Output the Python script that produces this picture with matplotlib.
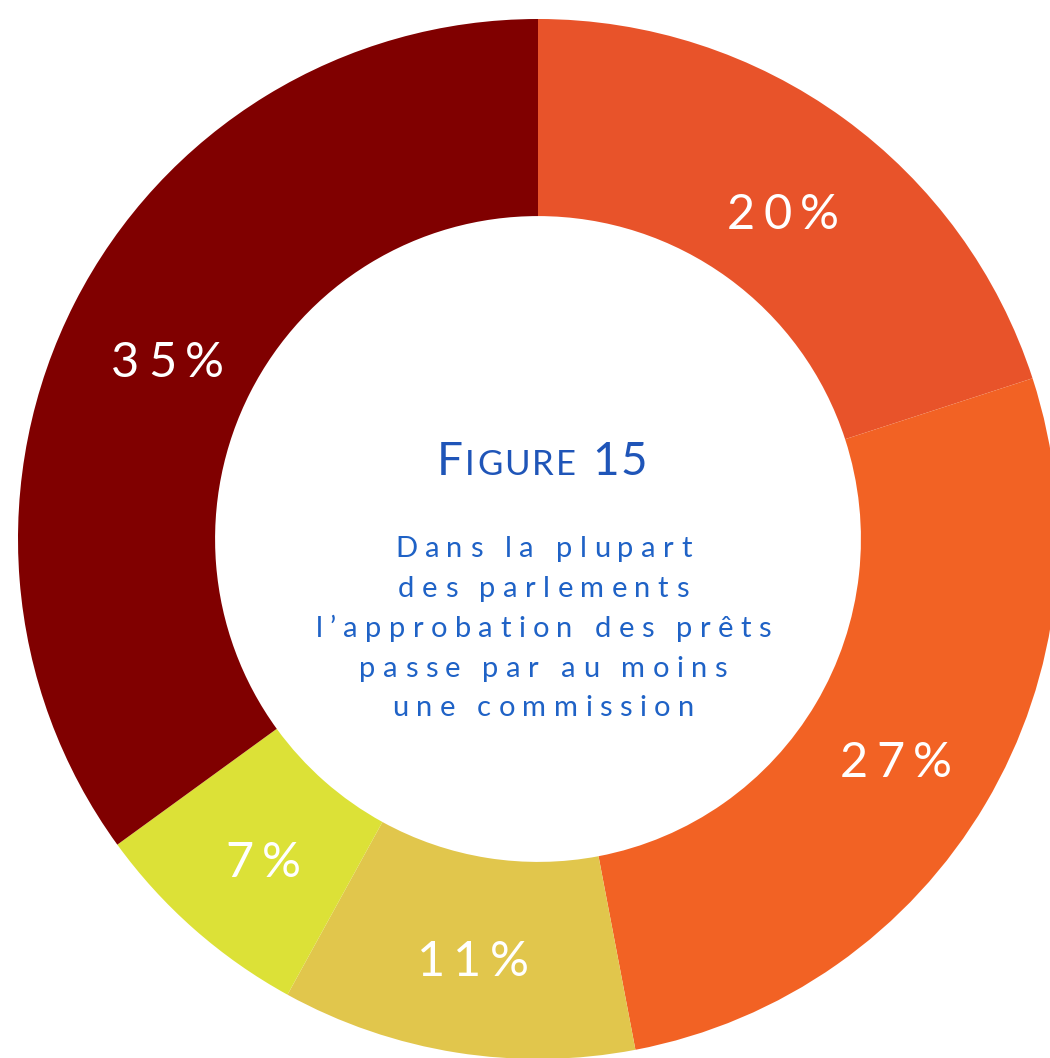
import matplotlib
matplotlib.use("Agg")
import matplotlib.pyplot as plt
from matplotlib import transforms
from matplotlib.font_manager import FontProperties, findfont
from matplotlib.ft2font import FT2Font

# data
shares = [20, 27, 11, 7, 35]
colors = ["#E8532A", "#F26224", "#E1C64C", "#DCE137", "#800000"]
title_runs = [("F", 33), ("IGURE", 25), (" 15", 33)]
body_lines = ["Dans la plupart", "des parlements", "l\u2019approbation des prêts",
              "passe par au moins", "une commission"]

FONT = "Lato"
_fonts = {}


def advance(ch, size, weight):
    key = weight
    if key not in _fonts:
        _fonts[key] = FT2Font(findfont(FontProperties(family=FONT, weight=weight)))
    f = _fonts[key]
    f.set_size(size, 72)
    g = f.load_char(ord(ch))
    return g.linearHoriAdvance / 65536.0


def tracked(ax, x, y, runs, track, color, weight="normal", dy=0):
    # draw text char by char so the letter spacing can be widened
    chars = [(c, s) for txt, s in runs for c in txt]
    widths = [advance(c, s, weight) for c, s in chars]
    total = sum(widths) + track * (len(chars) - 1)
    pos = -total / 2
    for (c, s), w in zip(chars, widths):
        tr = transforms.offset_copy(ax.transData, fig=ax.figure, x=pos, y=dy, units="points")
        ax.text(x, y, c, transform=tr, fontsize=s, family=FONT, fontweight=weight,
                color=color, ha="left", va="baseline")
        pos += w + track


fig = plt.figure(figsize=(10.5, 10.58), dpi=100)
ax = fig.add_axes([0, 0, 1, 1])

wedges, texts, autotexts = ax.pie(shares, colors=colors, startangle=90, counterclock=False,
                                  radius=1, autopct="%d%%", pctdistance=0.8,
                                  wedgeprops=dict(width=0.379, linewidth=0))

for t in autotexts:
    x, y = t.get_position()
    s = t.get_text()
    t.set_visible(False)
    tracked(ax, x, y, [(s, 35)], 6, "white", dy=-19)

# centre text
tracked(ax, 0.008, 0.123, title_runs, 1.5, "#1F55B8")
y0 = -0.035
for i, line in enumerate(body_lines):
    tracked(ax, 0.01, y0 - i * 0.0765, [(line, 21)], 5.3, "#1F62C6")

ax.set_xlim(-538 / 520, 512 / 520)
ax.set_ylim(-519 / 520, 539 / 520)
ax.set_aspect("auto")
ax.axis("off")

fig.savefig("out.png", dpi=100)
